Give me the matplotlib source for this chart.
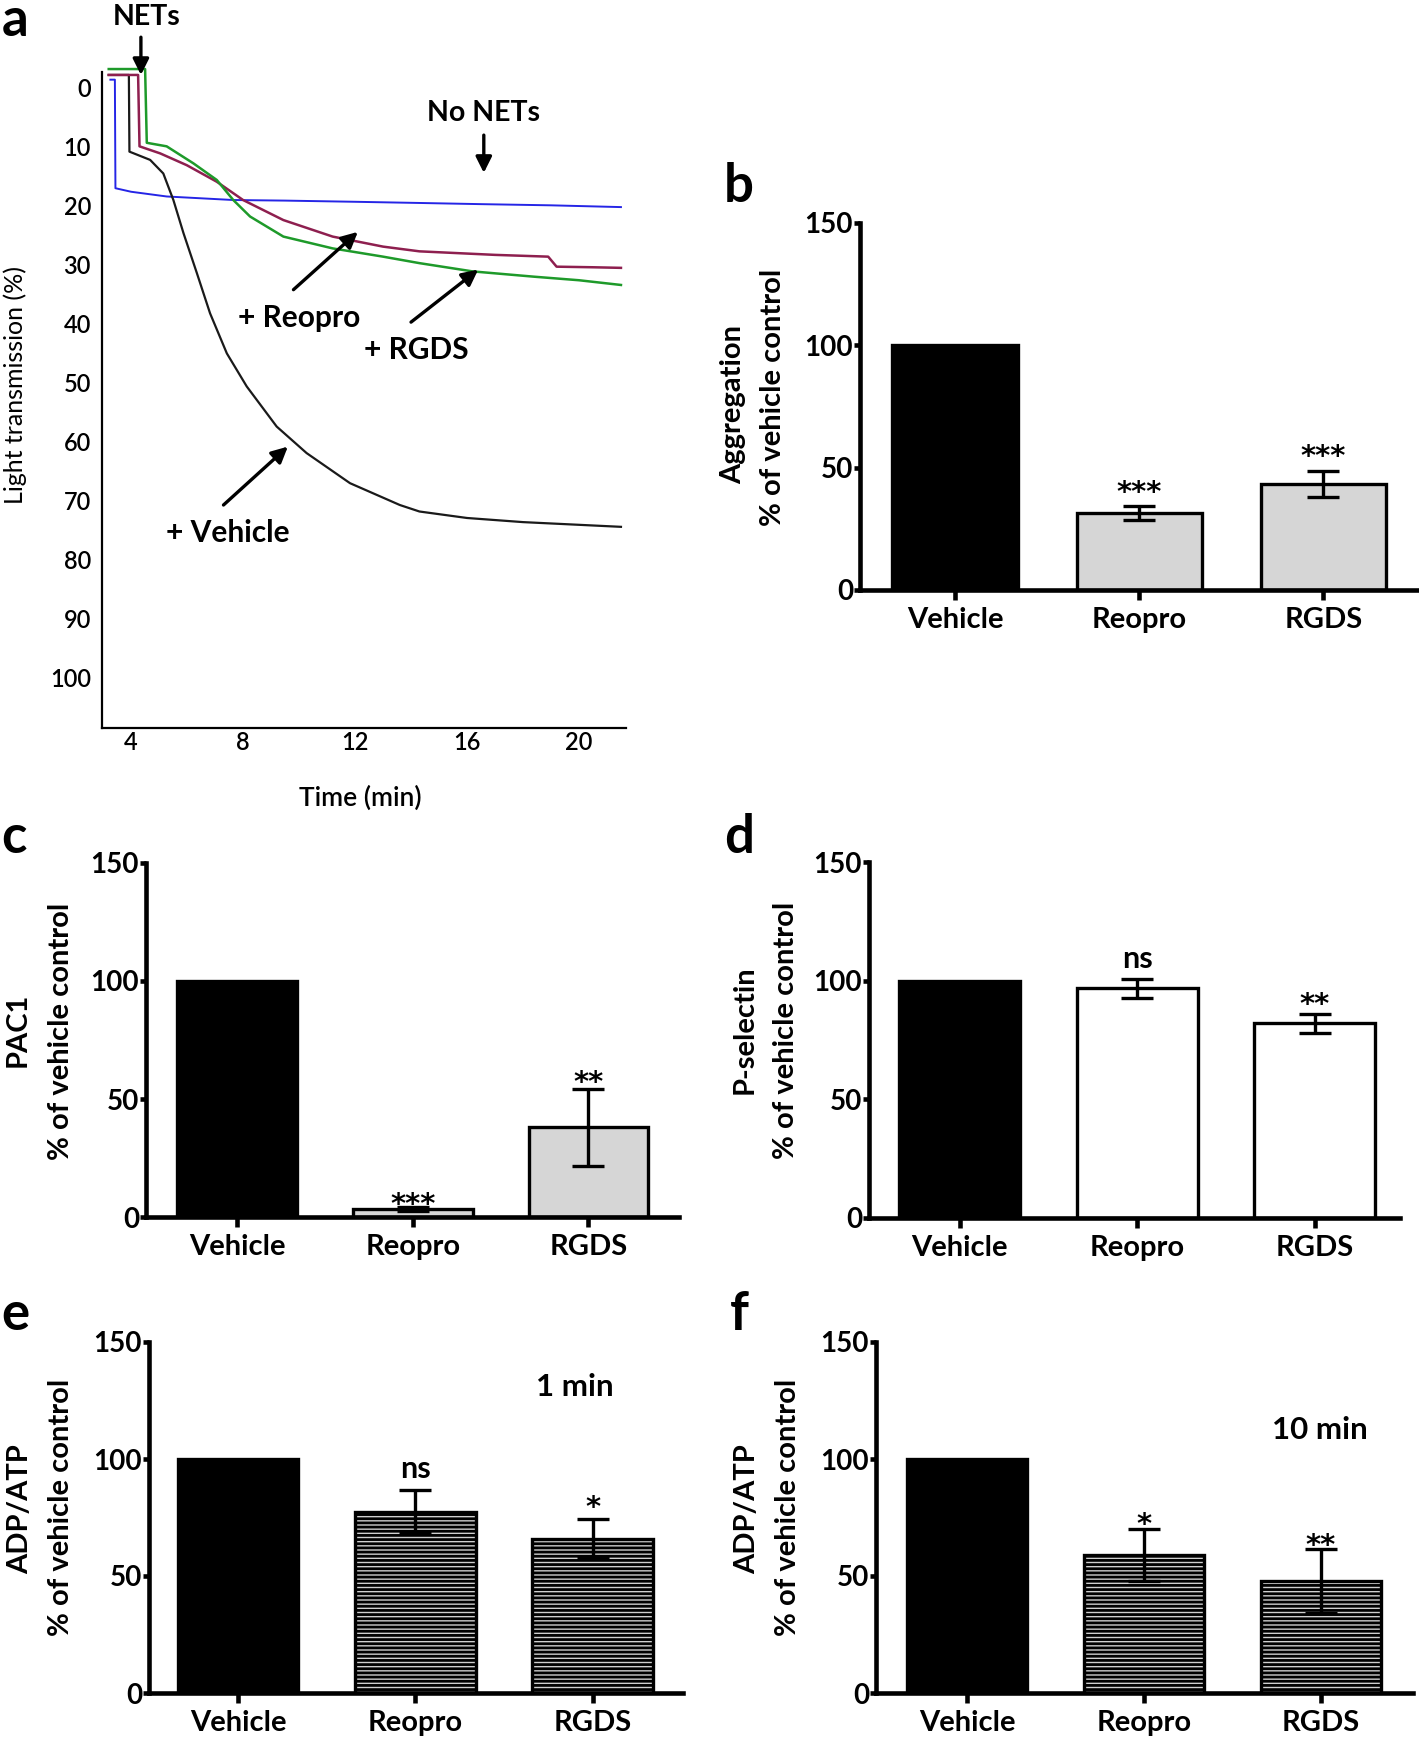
import matplotlib
matplotlib.use('Agg')
import matplotlib.pyplot as plt
import numpy as np

plt.rcParams['font.family'] = ['Lato', 'DejaVu Sans']
plt.rcParams['hatch.linewidth'] = 2.0

# ---- panel a: aggregation traces (time in min, light transmission %) ----
blue_t = [3.26, 3.42, 3.44, 4.0, 5.27, 7.65, 9.5, 12.0, 14.3, 16.5, 19.0, 21.5]
blue_y = [-1.4, -1.4, 17.0, 17.6, 18.4, 19.0, 19.1, 19.3, 19.5, 19.7, 19.9, 20.2]

green_t = [3.2, 4.5, 4.56, 5.27, 6.23, 7.06, 7.65, 8.25, 9.44, 11.2, 13.0, 14.3, 16.2, 18.4, 20.0, 21.5]
green_y = [-3.2, -3.2, 9.3, 9.9, 12.8, 15.6, 19.0, 21.8, 25.2, 27.2, 28.6, 29.7, 31.1, 32.0, 32.6, 33.4]

maroon_t = [3.2, 4.25, 4.3, 5.04, 5.99, 7.06, 8.0, 9.44, 11.2, 13.0, 14.3, 17.0, 18.9, 19.2, 20.5, 21.5]
maroon_y = [-2.2, -2.2, 9.9, 11.1, 13.1, 15.9, 19.0, 22.4, 25.2, 26.9, 27.7, 28.3, 28.6, 30.3, 30.4, 30.5]

black_t = [3.2, 3.92, 3.94, 4.68, 5.15, 5.51, 5.87, 6.35, 6.82, 7.42, 8.13, 9.2, 10.27, 11.82, 13.6, 14.3, 16.0, 18.0, 21.5]
black_y = [-2.2, -2.2, 10.8, 12.2, 14.5, 19.0, 24.6, 31.4, 38.2, 45.0, 50.6, 57.4, 61.9, 67.0, 70.7, 71.8, 72.9, 73.6, 74.4]

# ---- bar panels ----
cats = ['Vehicle', 'Reopro', 'RGDS']
agg_mean = [100, 31.5, 43.5]
agg_err = [0, 3.0, 5.3]
agg_marks = ['', '***', '***']
pac1_mean = [100, 3.4, 38.1]
pac1_err = [0, 1.0, 16.3]
pac1_marks = ['', '***', '**']
psel_mean = [100, 96.8, 82.0]
psel_err = [0, 4.0, 4.0]
psel_marks = ['', 'ns', '**']
adp1_mean = [100, 77.4, 66.0]
adp1_err = [0, 9.2, 8.4]
adp1_marks = ['', 'ns', '*']
adp10_mean = [100, 59.0, 48.0]
adp10_err = [0, 11.0, 13.7]
adp10_marks = ['', '*', '**']

W, H = 1419, 1738
fig = plt.figure(figsize=(W / 100, H / 100), dpi=100)


def box(l, t, r, b):
    return [l / W, 1 - b / H, (r - l) / W, (b - t) / H]


def ftext(x, y, s, **kw):
    fig.text(x / W, 1 - y / H, s, **kw)


# panel a
ax = fig.add_axes(box(102, 72, 626, 728))
ax.plot(blue_t, blue_y, color='#2525e6', lw=1.4, clip_on=False)
ax.plot(black_t, black_y, color='#1a1a1a', lw=1.6, clip_on=False)
ax.plot(maroon_t, maroon_y, color='#8e1f4f', lw=1.8, clip_on=False)
ax.plot(green_t, green_y, color='#1e9a2a', lw=1.8, clip_on=False)
ax.set_xlim(2.96, 21.68)
ax.set_ylim(108.5, -2.7)
ax.set_xticks([4, 8, 12, 16, 20])
ax.set_yticks(range(0, 101, 10))
ax.tick_params(length=0, labelsize=17)
ax.tick_params(axis='y', pad=8)
ax.tick_params(axis='x', pad=2)
for lab in ax.get_xticklabels() + ax.get_yticklabels():
    lab.set_fontweight('semibold')
ax.spines[['top', 'right']].set_visible(False)
ax.spines[['left', 'bottom']].set_linewidth(1.6)
ax.set_facecolor('none')

arrow = dict(arrowstyle='-|>', lw=2.4, color='k', mutation_scale=24, shrinkA=0, shrinkB=0)
ax.annotate('', xy=(4.35, -2.2), xytext=(4.35, -8.6), arrowprops=arrow, annotation_clip=False)
ax.text(4.57, -12, 'NETs', ha='center', va='center', fontsize=20.5, fontweight='bold', clip_on=False)
ax.annotate('', xy=(16.6, 14.4), xytext=(16.6, 8.0), arrowprops=arrow)
ax.text(16.6, 4.3, 'No NETs', ha='center', va='center', fontsize=20.5, fontweight='bold')
ax.annotate('', xy=(12.1, 24.4), xytext=(9.8, 34.2), arrowprops=arrow)
ax.text(10.0, 39.0, '+ Reopro', ha='center', va='center', fontsize=21.5, fontweight='bold')
ax.annotate('', xy=(16.4, 30.8), xytext=(14.0, 39.7), arrowprops=arrow)
ax.text(14.2, 44.4, '+ RGDS', ha='center', va='center', fontsize=21.5, fontweight='bold')
ax.annotate('', xy=(9.6, 60.8), xytext=(7.3, 70.7), arrowprops=arrow)
ax.text(7.45, 75.4, '+ Vehicle', ha='center', va='center', fontsize=21.5, fontweight='bold')

ftext(360, 798, 'Time (min)', ha='center', va='center', fontsize=19, fontweight='semibold')
ftext(15, 385, 'Light transmission (%)', ha='center', va='center', rotation=90, fontsize=18)


def bar_panel(rect, xlim, means, errs, marks, offs, fill, hatch):
    a = fig.add_axes(box(*rect))
    x = np.arange(len(cats))
    bars = a.bar(x, means, width=0.68, color=['k', fill, fill], edgecolor='k',
                 linewidth=2.4, zorder=2)
    if hatch:
        for p in bars[1:]:
            p.set_hatch(hatch)
    a.errorbar(x[1:], means[1:], yerr=errs[1:], fmt='none', ecolor='k',
               elinewidth=2.4, capsize=11.5, capthick=2.4, zorder=3)
    for i in range(1, len(cats)):
        star = marks[i].startswith('*')
        a.annotate(marks[i], (x[i], means[i] + errs[i]), xytext=(0, offs[i]),
                   textcoords='offset pixels', ha='center', va='baseline',
                   fontsize=21 if star else 22, fontweight='bold',
                   family=['DejaVu Sans'] if star else ['Lato', 'DejaVu Sans'])
    a.set_xlim(*xlim)
    a.set_ylim(0, 150)
    a.set_yticks([0, 50, 100, 150])
    a.set_xticks(x, cats)
    a.spines[['top', 'right']].set_visible(False)
    a.spines[['left', 'bottom']].set_linewidth(3.3)
    a.tick_params(axis='y', length=4, width=3.3, pad=1, labelsize=20)
    a.tick_params(axis='x', length=7, width=3.3, pad=5, labelsize=21)
    for lab in a.get_xticklabels() + a.get_yticklabels():
        lab.set_fontweight('bold')
    return a


lbl = dict(ha='center', va='center', rotation=90, fontsize=21, fontweight='bold')
big = dict(ha='left', va='baseline', fontsize=38, fontweight='bold')

# b
bar_panel((860, 223, 1419, 590), (-0.516, 2.52), agg_mean, agg_err, agg_marks,
          [0, 5, 6], '#d6d6d6', None)
ftext(733, 405, 'Aggregation', **lbl)
ftext(773, 397, '% of vehicle control', **lbl)
ftext(724, 202, 'b', **big)

# c
bar_panel((146, 863, 679, 1217), (-0.518, 2.515), pac1_mean, pac1_err, pac1_marks,
          [0, -6, -2], '#d6d6d6', None)
ftext(18, 1030, 'PAC1', **lbl)
ftext(61, 1031, '% of vehicle control', **lbl)
ftext(1, 853, 'c', **big)

# d
bar_panel((869, 862, 1400, 1218), (-0.51, 2.48), psel_mean, psel_err, psel_marks,
          [0, 11, 1], 'white', None)
ftext(745, 1030, 'P-selectin', **lbl)
ftext(786, 1030, '% of vehicle control', **lbl)
ftext(724, 853, 'd', **big)

# e
bar_panel((149, 1342, 683, 1693), (-0.503, 2.51), adp1_mean, adp1_err, adp1_marks,
          [0, 12, 3], '#cfcfcf', '----')
ftext(20, 1509, 'ADP/ATP', **lbl)
ftext(61, 1507, '% of vehicle control', **lbl)
ftext(575, 1387, '1 min', ha='center', va='center', fontsize=22.5, fontweight='bold')
ftext(1, 1330, 'e', **big)

# f
bar_panel((876, 1342, 1413, 1693), (-0.515, 2.52), adp10_mean, adp10_err, adp10_marks,
          [0, -4, -5], '#cfcfcf', '----')
ftext(747, 1509, 'ADP/ATP', **lbl)
ftext(788, 1507, '% of vehicle control', **lbl)
ftext(1320, 1430, '10 min', ha='center', va='center', fontsize=22.5, fontweight='bold')
ftext(730, 1330, 'f', **big)

ftext(2, 36, 'a', **big)

fig.savefig('out.png', dpi=100)
